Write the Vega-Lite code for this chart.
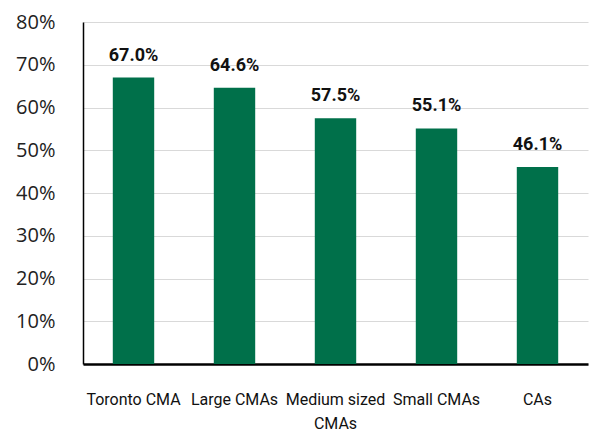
{
  "$schema": "https://vega.github.io/schema/vega-lite/v6.json",
  "width": 505,
  "height": 342,
  "autosize": "none",
  "padding": {"left": 83, "top": 22, "right": 1, "bottom": 69},
  "background": "white",
  "data": {"values": [
    {"region": "Toronto CMA", "share": 0.670},
    {"region": "Large CMAs", "share": 0.646},
    {"region": "Medium sized CMAs", "share": 0.575},
    {"region": "Small CMAs", "share": 0.551},
    {"region": "CAs", "share": 0.461}
  ]},
  "config": {"view": {"stroke": null}},
  "encoding": {
    "x": {"field": "region", "type": "nominal", "sort": null,
      "scale": {"paddingInner": 0.59, "paddingOuter": 0.295},
      "axis": {"title": null, "labelAngle": 0, "ticks": false, "domainColor": "#000000", "domainWidth": 2.5,
        "labelFont": "Roboto", "labelFontSize": 16, "labelColor": "#111111", "labelOverlap": false,
        "labelPadding": 27, "labelLineHeight": 24,
        "labelExpr": "datum.value == 'Medium sized CMAs' ? ['Medium sized', 'CMAs'] : datum.value"}},
    "y": {"field": "share", "type": "quantitative",
      "scale": {"domain": [0, 0.8], "nice": false},
      "axis": {"title": null, "format": ".0%", "values": [0,0.1,0.2,0.3,0.4,0.5,0.6,0.7,0.8], "labelOverlap": false,
        "ticks": false, "domainColor": "#000000", "domainWidth": 1.5,
        "grid": true, "gridColor": "#d9d9d9", "gridWidth": 1.2,
        "labelFont": "Open Sans", "labelFontSize": 20, "labelColor": "#222222", "labelPadding": 28}}
  },
  "layer": [
    {"mark": {"type": "bar", "color": "#00704A"}},
    {"mark": {"type": "text", "baseline": "bottom", "dy": -13, "font": "Roboto", "fontWeight": "bold", "fontSize": 18, "color": "#111111"},
     "encoding": {"text": {"field": "share", "type": "quantitative", "format": ".1%"}}}
  ]
}
